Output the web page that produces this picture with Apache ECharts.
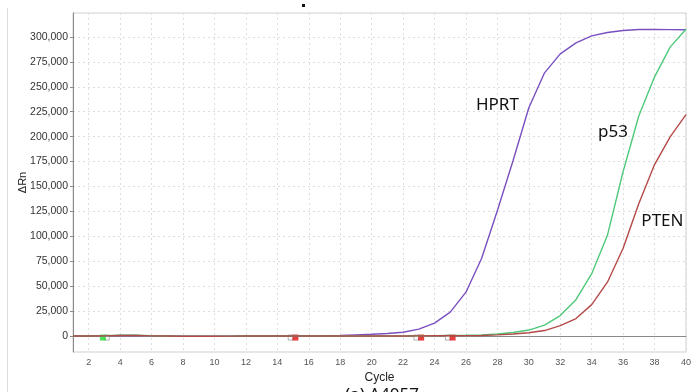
<!DOCTYPE html>
<html>
<head>
<meta charset="utf-8">
<script src="https://cdn.jsdelivr.net/npm/echarts@6/dist/echarts.min.js"></script>
<style>
  html, body { margin: 0; padding: 0; background: #fff; }
  #main { width: 697px; height: 392px; }
</style>
</head>
<body>
<div id="main"></div>
<script>
// cycles 1..40
var cycles = [1,2,3,4,5,6,7,8,9,10,11,12,13,14,15,16,17,18,19,20,21,22,23,24,25,26,27,28,29,30,31,32,33,34,35,36,37,38,39,40];

// ΔRn per cycle
var hprt = [0,0,200,600,700,200,0,-200,-200,-200,-100,0,0,100,200,200,300,500,1200,1800,
            2500,3800,7000,13000,24000,44000,78000,126000,176000,229000,
            264000,283000,294000,301000,304500,306500,307500,307500,307300,307200];
var p53  = [0,0,300,800,900,300,0,-200,-200,-200,-100,0,0,0,0,0,0,0,0,0,
            100,200,300,400,600,800,1200,2000,3500,6000,
            11000,20500,36500,62500,101000,165000,221000,260000,290000,307700];
var pten = [0,0,200,600,700,200,0,-200,-200,-200,-100,0,0,0,0,0,0,0,0,0,
            0,100,200,300,300,400,600,1200,2000,3300,
            5500,10500,17500,31500,54000,88000,133000,172000,200000,222000];

// Ct / baseline markers under the curves
var greenMarkX = [2.9];
var whiteMarkX = [3.15, 14.85, 22.85, 24.85];
var redMarkX   = [15.15, 23.15, 25.15];
var markY = -1500;

// tick labels
var xTicks = [2,4,6,8,10,12,14,16,18,20,22,24,26,28,30,32,34,36,38,40];
var yTicks = [0,25000,50000,75000,100000,125000,150000,175000,200000,225000,250000,275000,300000];

// curve labels (name, cycle, ΔRn)
var curveLabels = [
    ['HPRT', 28.0, 232000],
    ['p53', 35.35, 204000],
    ['PTEN', 38.5, 115000]
];

function pairs(ys) {
    return cycles.map(function (c, i) { return [c, ys[i]]; });
}
function markPts(xs) {
    return xs.map(function (x) { return [x, markY]; });
}
function labelPoint(i) {
    var l = curveLabels[i];
    return {
        symbol: 'circle',
        symbolSize: 0,
        silent: true,
        label: {
            show: true, position: 'inside', formatter: l[0],
            color: '#111', fontSize: 17, fontFamily: 'Noto Sans'
        },
        data: [{ coord: [l[1], l[2]] }]
    };
}

var chart = echarts.init(document.getElementById('main'));

var option = {
    animation: false,
    backgroundColor: '#fff',
    grid: {
        left: 73, right: 11, top: 13, bottom: 40,
        show: true, borderColor: '#cfcfcf', borderWidth: 1
    },
    xAxis: {
        type: 'value',
        min: 1, max: 40,
        name: 'Cycle', nameLocation: 'middle', nameGap: 20,
        nameTextStyle: { color: '#222', fontSize: 12, fontFamily: 'Liberation Sans' },
        axisLine: { lineStyle: { color: '#8a8a8a' } },
        axisTick: { show: false, customValues: xTicks },
        axisLabel: { customValues: xTicks, color: '#555', fontSize: 9, margin: 6, fontFamily: 'Liberation Sans' },
        splitLine: { show: true, lineStyle: { color: '#dedede', type: [2, 3] } }
    },
    yAxis: {
        type: 'value',
        min: -16000, max: 324000,
        name: 'ΔRn', nameLocation: 'middle', nameGap: 45, nameRotate: 90,
        nameMoveOverlap: false,
        nameTextStyle: { color: '#222', fontSize: 11, fontFamily: 'Liberation Sans' },
        axisLine: { show: true, lineStyle: { color: '#8a8a8a' } },
        axisTick: { show: true, length: 3, customValues: yTicks, lineStyle: { color: '#8a8a8a' } },
        axisLabel: {
            customValues: yTicks, color: '#333', fontSize: 10.5, margin: 5, fontFamily: 'Liberation Sans',
            formatter: function (v) { return v.toLocaleString('en-US'); }
        },
        splitLine: { show: true, lineStyle: { color: '#dedede', type: [2, 3] } }
    },
    series: [
        {
            name: 'HPRT', type: 'line', data: pairs(hprt), showSymbol: false,
            lineStyle: { color: '#7a4fc0', width: 1.4 }, itemStyle: { color: '#7a4fc0' },
            markPoint: labelPoint(0)
        },
        {
            name: 'p53', type: 'line', data: pairs(p53), showSymbol: false,
            lineStyle: { color: '#4ec97a', width: 1.4 }, itemStyle: { color: '#4ec97a' },
            markPoint: labelPoint(1)
        },
        {
            name: 'PTEN', type: 'line', data: pairs(pten), showSymbol: false,
            lineStyle: { color: '#b44a48', width: 1.4 }, itemStyle: { color: '#b44a48' },
            markPoint: labelPoint(2)
        },
        {
            type: 'scatter', data: markPts(whiteMarkX), symbol: 'rect', symbolSize: 5,
            itemStyle: { color: '#fff', borderColor: '#888', borderWidth: 0.8 }
        },
        {
            type: 'scatter', data: markPts(greenMarkX), symbol: 'rect', symbolSize: 6,
            itemStyle: { color: '#22dd33' }
        },
        {
            type: 'scatter', data: markPts(redMarkX), symbol: 'rect', symbolSize: 6,
            itemStyle: { color: '#e01010' }
        }
    ],
    graphic: [
        // left edge of the cropped screenshot frame
        { type: 'rect', shape: { x: 7, y: 8, width: 1, height: 384 }, style: { fill: '#dddddd' }, silent: true },
        // stray dot of a cut-off title
        { type: 'rect', shape: { x: 302, y: 4, width: 3, height: 3 }, style: { fill: '#111' }, silent: true },
        // caption cut off at the bottom
        { type: 'text', left: 345, top: 387, style: { text: '(a) A4057', fill: '#111', font: '17px "Noto Sans"' }, silent: true }
    ]
};

chart.setOption(option);
</script>
</body>
</html>
